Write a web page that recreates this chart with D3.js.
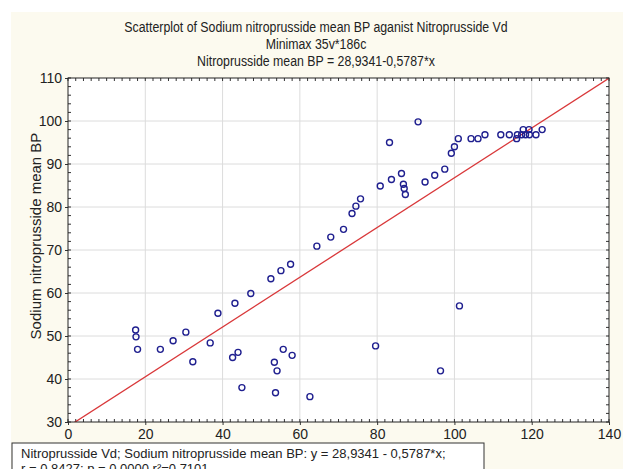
<!DOCTYPE html>
<meta charset="utf-8">
<title>Scatterplot of Sodium nitroprusside mean BP</title>
<style>
body { margin: 0; background: #fff; }
text { font-family: "Liberation Sans", Arial, sans-serif; fill: #222; }
.grid line { stroke: #dcdcdc; }
.ticks line { stroke: #333; }
</style>
<svg width="626" height="469"></svg>
<script src="https://d3js.org/d3.v7.min.js"></script>
<script>

// values
var vd = [17.5, 17.6, 18.0, 23.9, 27.2, 30.5, 32.3, 36.8, 38.8, 42.6,
          44.0, 43.2, 45.0, 47.3, 52.5, 53.4, 54.1, 53.7, 55.1, 55.7,
          57.6, 58.0, 62.6, 64.4, 68.0, 71.3, 73.5, 74.5, 75.7, 79.6,
          80.8, 83.2, 83.7, 86.3, 86.8, 87.0, 87.3, 90.6, 92.4, 94.9,
          96.4, 97.5, 99.2, 100.0, 101.0, 101.3, 104.3, 106.1, 107.9, 112.0,
          114.2, 116.1, 116.3, 117.4, 117.8, 118.4, 119.3, 119.4, 121.1, 122.7];
var meanBP = [51.4, 49.8, 46.9, 46.9, 48.9, 50.9, 44.0, 48.4, 55.3, 45.0,
              46.2, 57.6, 38.0, 59.9, 63.3, 43.9, 41.9, 36.8, 65.2, 46.9,
              66.7, 45.5, 35.9, 70.9, 73.0, 74.8, 78.5, 80.2, 81.9, 47.7,
              84.9, 95.0, 86.4, 87.8, 85.3, 84.3, 82.9, 99.8, 85.8, 87.4,
              41.9, 88.8, 92.5, 94.0, 95.9, 57.0, 95.9, 95.9, 96.8, 96.8,
              96.8, 95.9, 96.8, 96.8, 98.0, 96.8, 98.0, 96.8, 96.8, 98.0];

var xTicks = [0, 20, 40, 60, 80, 100, 120, 140];
var yTicks = [30, 40, 50, 60, 70, 80, 90, 100, 110];
var fitA = 28.9341, fitB = 0.5787;

var titleLines = [
  "Scatterplot of Sodium nitroprusside mean BP aganist Nitroprusside Vd",
  "Minimax 35v*186c",
  "Nitroprusside mean BP = 28,9341-0,5787*x"
];
var captionLines = [
  "Nitroprusside Vd; Sodium nitroprusside mean BP: y = 28,9341 - 0,5787*x;",
  "r = 0,8427; p = 0,0000 r\u00b2=0,7101"
];

var svg = d3.select("svg");

// cream page background
svg.append("rect")
    .attr("x", 11).attr("y", 12)
    .attr("width", 612).attr("height", 457)
    .attr("fill", "#fcfaef");

// plot box (pTop: "top" is taken by window.top)
var pLeft = 68, pRight = 609, pTop = 78, pBottom = 422;

var x = d3.scaleLinear().domain([0, 140]).range([pLeft, pRight]);
var y = d3.scaleLinear().domain([30, 110]).range([pBottom, pTop]);

svg.append("rect")
    .attr("x", pLeft).attr("y", pTop)
    .attr("width", pRight - pLeft).attr("height", pBottom - pTop)
    .attr("fill", "#fff");

// grid
var grid = svg.append("g").attr("class", "grid");
grid.selectAll(".gx").data(xTicks.slice(1, -1)).enter().append("line")
    .attr("x1", function(d) { return x(d); }).attr("x2", function(d) { return x(d); })
    .attr("y1", pTop).attr("y2", pBottom);
grid.selectAll(".gy").data(yTicks.slice(1, -1)).enter().append("line")
    .attr("y1", function(d) { return y(d); }).attr("y2", function(d) { return y(d); })
    .attr("x1", pLeft).attr("x2", pRight);

// minor ticks every 2 units, pointing inward on all sides
var ticks = svg.append("g").attr("class", "ticks");
var xMinor = d3.range(0, 141, 2), yMinor = d3.range(30, 111, 2);
xMinor.forEach(function(d) {
  ticks.append("line").attr("x1", x(d)).attr("x2", x(d)).attr("y1", pBottom).attr("y2", pBottom - 3);
  ticks.append("line").attr("x1", x(d)).attr("x2", x(d)).attr("y1", pTop).attr("y2", pTop + 3);
});
yMinor.forEach(function(d) {
  ticks.append("line").attr("y1", y(d)).attr("y2", y(d)).attr("x1", pLeft).attr("x2", pLeft + 3);
  ticks.append("line").attr("y1", y(d)).attr("y2", y(d)).attr("x1", pRight).attr("x2", pRight - 3);
});

// axes (labels only, major ticks outward)
svg.append("g")
    .attr("transform", "translate(0," + pBottom + ")")
    .call(d3.axisBottom(x).tickValues(xTicks).tickSize(3).tickPadding(4))
    .call(function(g) { g.select(".domain").remove(); })
    .selectAll("text").attr("font-size", 14).attr("fill", "#222");

svg.append("g")
    .attr("transform", "translate(" + pLeft + ",0)")
    .call(d3.axisLeft(y).tickValues(yTicks).tickSize(3).tickPadding(3))
    .call(function(g) { g.select(".domain").remove(); })
    .selectAll("text").attr("font-size", 14).attr("fill", "#222");

svg.selectAll(".tick line").attr("stroke", "#333");

// regression line, clipped to plot
svg.append("clipPath").attr("id", "plotclip")
  .append("rect").attr("x", pLeft).attr("y", pTop)
    .attr("width", pRight - pLeft).attr("height", pBottom - pTop);

var fitX = [0, 140];
svg.append("path")
    .datum(fitX)
    .attr("clip-path", "url(#plotclip)")
    .attr("fill", "none")
    .attr("stroke", "#d9383a")
    .attr("stroke-width", 1.3)
    .attr("d", d3.line()
        .x(function(d) { return x(d); })
        .y(function(d) { return y(fitA + fitB * d); }));

// points
svg.append("g").selectAll("circle")
    .data(vd)
    .enter().append("circle")
      .attr("cx", function(d) { return x(d); })
      .attr("cy", function(d, i) { return y(meanBP[i]); })
      .attr("r", 3)
      .attr("fill", "none")
      .attr("stroke", "#1f1f8f")
      .attr("stroke-width", 1.4);

// frame
svg.append("rect")
    .attr("x", pLeft).attr("y", pTop)
    .attr("width", pRight - pLeft).attr("height", pBottom - pTop)
    .attr("fill", "none").attr("stroke", "#222");

// titles, a bit condensed like the original
svg.append("g").selectAll("text")
    .data(titleLines)
    .enter().append("text")
      .attr("x", 316)
      .attr("y", function(d, i) { return 32 + i * 17; })
      .attr("text-anchor", "middle")
      .attr("font-size", 14)
      .text(function(d) { return d; })
      .each(function() {
        var w = this.getComputedTextLength();
        d3.select(this).attr("textLength", w * 0.88).attr("lengthAdjust", "spacingAndGlyphs");
      });

// y axis label
svg.append("text")
    .attr("transform", "translate(41,236) rotate(-90)")
    .attr("text-anchor", "middle")
    .attr("font-size", 15)
    .text("Sodium nitroprusside mean BP");

// caption box at the bottom
svg.append("rect")
    .attr("x", 12).attr("y", 443)
    .attr("width", 472).attr("height", 40)
    .attr("fill", "#fff").attr("stroke", "#333");

svg.append("g").selectAll("text")
    .data(captionLines)
    .enter().append("text")
      .attr("x", 21)
      .attr("y", function(d, i) { return 458 + i * 15; })
      .attr("font-size", 13)
      .text(function(d) { return d; });

</script>
